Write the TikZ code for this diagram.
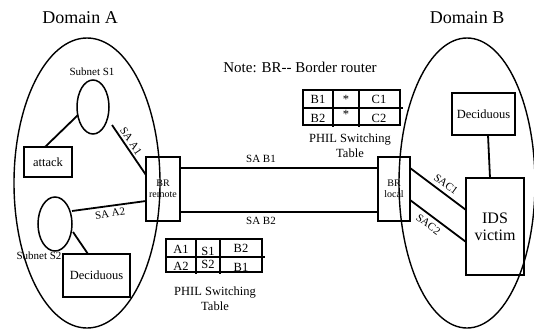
\documentclass[tikz,border=0pt]{standalone}
\usepackage{fontspec}
\setmainfont{Liberation Serif}
\usetikzlibrary{shapes.geometric}
\begin{document}
\begin{tikzpicture}[x=1pt,y=-1pt,
  lw/.style={line width=1.8pt},
  bx/.style={draw,line width=1.8pt,inner sep=0pt,align=center},
  dom/.style={draw,ellipse,line width=1.4pt,inner sep=0pt},
  sub/.style={draw,ellipse,line width=1.5pt,inner sep=0pt},
  lbl/.style={font=\fontsize{11}{12}\selectfont,inner sep=0pt},
  tcell/.style={font=\fontsize{12.5}{13}\selectfont,inner sep=0pt}]
\useasboundingbox (0,0) rectangle (534,329);
% Domains
\node[font=\fontsize{18}{20}\selectfont] (da) at (80,18) {Domain A};
\node[font=\fontsize{18}{20}\selectfont] (db) at (467,18) {Domain B};
\node[dom,minimum width=146pt,minimum height=290pt] (ella) at (87,183) {};
\node[dom,minimum width=136pt,minimum height=290pt] (ellb) at (467,183) {};
\node[font=\fontsize{15}{16}\selectfont] (note) at (300,67) {Note: BR-{}- Border router};
% Domain A contents
\node[sub,minimum width=32pt,minimum height=54pt] (s1) at (93,107) {};
\node[lbl] (s1l) at (92,72) {Subnet S1};
\node[bx,minimum width=48pt,minimum height=30pt,font=\fontsize{12.5}{13}\selectfont] (att) at (48,162) {attack};
\node[bx,minimum width=34pt,minimum height=64pt,font=\fontsize{10}{11}\selectfont] (brr) at (163,189) {BR\\remote};
\node[sub,minimum width=34pt,minimum height=54pt] (s2) at (55,224) {};
\node[lbl] (s2l) at (39,256) {Subnet S2};
\node[bx,minimum width=67pt,minimum height=43pt,font=\fontsize{12.5}{13}\selectfont] (decA) at (96.5,275.5) {Deciduous};
\coordinate (s1a) at (78,115);
\coordinate (atta) at (45,147);
\draw[lw] (s1a) -- (atta);
\coordinate (s1b) at (112,125);
\coordinate (brra) at (146,175);
\draw[lw] (s1b) -- node[lbl,sloped,above=2pt,pos=0.4] {SA A1} (brra);
\coordinate (s2a) at (72,211);
\coordinate (brrb) at (146,201);
\draw[lw] (s2a) -- node[lbl,sloped,below=3pt] {SA A2} (brrb);
\coordinate (s2b) at (73,232);
\coordinate (deca) at (88,254);
\draw[lw] (s2b) -- (deca);
% Domain B contents
\node[bx,minimum width=32pt,minimum height=64pt,font=\fontsize{10}{11}\selectfont] (brl) at (394,189) {BR\\local};
\node[bx,minimum width=63pt,minimum height=42pt,font=\fontsize{12.5}{13}\selectfont] (decB) at (483.5,114) {Deciduous};
\node[bx,minimum width=58pt,minimum height=97pt,font=\fontsize{16}{17}\selectfont] (ids) at (495,226.5) {IDS\\victim};
\coordinate (decb) at (488,135);
\coordinate (idst) at (490,178);
\draw[lw] (decb) -- (idst);
\coordinate (brl1) at (410,168);
\coordinate (ids1) at (466,210);
\draw[lw] (brl1) -- node[lbl,sloped,above=4pt,pos=0.55] {SAC1} (ids1);
\coordinate (brl2) at (410,200);
\coordinate (ids2) at (466,242);
\draw[lw] (brl2) -- node[lbl,sloped,below=4pt,pos=0.42] {SAC2} (ids2);
% Inter-domain links
\coordinate (r1) at (180,168);
\coordinate (l1) at (378,168);
\coordinate (r2) at (180,212);
\coordinate (l2) at (378,212);
\draw[lw] (r1) -- (l1);
\draw[lw] (r2) -- (l2);
\node[lbl] (sab1) at (261,159) {SA B1};
\node[lbl] (sab2) at (261,221) {SA B2};
% Left table
\draw[lw] (166,239) rectangle (262,272);
\draw[lw] (166,257) -- (265,257);
\draw[lw] (196,239) -- (196,274);
\draw[lw] (220,239) -- (220,274);
\node[tcell] (a1) at (181,249) {A1};
\node[tcell] (s1c) at (208,251) {S1};
\node[tcell] (b2c) at (241,248) {B2};
\node[tcell] (a2) at (181,266) {A2};
\node[tcell] (s2c) at (208,264) {S2};
\node[tcell] (b1c) at (241,267) {B1};
\node[font=\fontsize{12.5}{14.5}\selectfont,align=center] (t1) at (215,298.5) {PHIL Switching\\Table};
% Right table
\draw[lw] (303,90) rectangle (400,125);
\draw[lw] (303,108) -- (403,108);
\draw[lw] (333,90) -- (333,127);
\draw[line width=2.6pt] (359,90) -- (359,127);
\node[tcell] (b1r) at (318,99) {B1};
\node[tcell] (st1) at (346,99) {*};
\node[tcell] (c1r) at (379,99) {C1};
\node[tcell] (b2r) at (318,118) {B2};
\node[tcell] (st2) at (346,114) {*};
\node[tcell] (c2r) at (379,118) {C2};
\node[font=\fontsize{12.5}{14.5}\selectfont,align=center] (t2) at (350,145.5) {PHIL Switching\\Table};
\end{tikzpicture}
\end{document}
